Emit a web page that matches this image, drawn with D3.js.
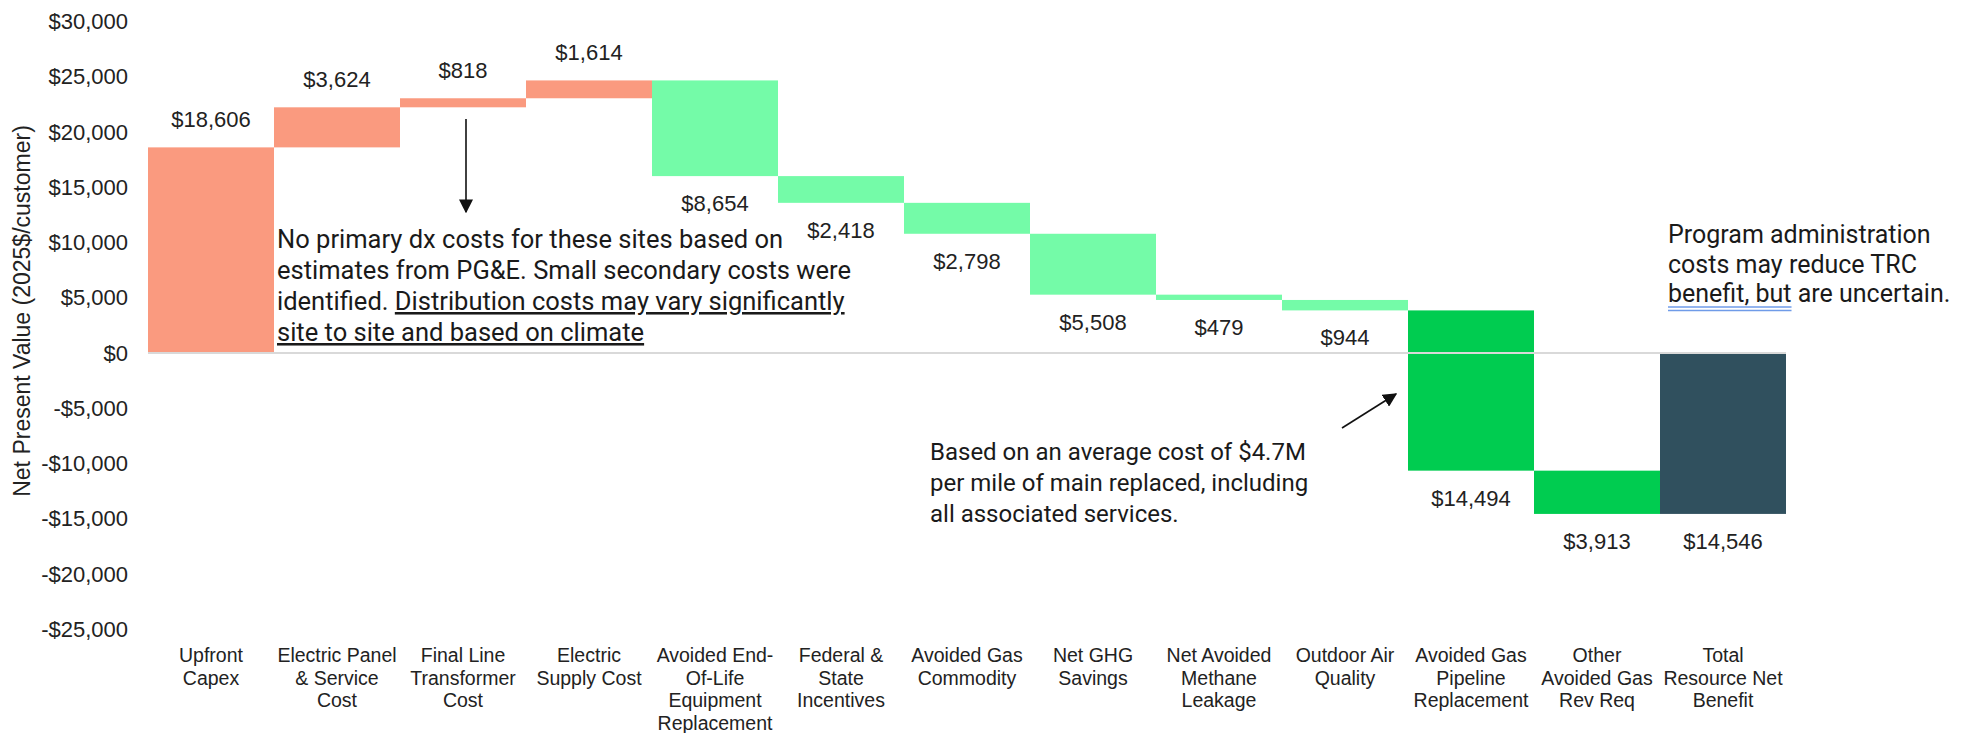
<!DOCTYPE html>
<html>
<head>
<meta charset="utf-8">
<script src="https://cdn.jsdelivr.net/npm/d3@7"></script>
<style>
	body { margin: 0; background: #ffffff; }
	svg text { fill: #1a1a1a; }
</style>
</head>
<body>
<svg id="chart" width="1978" height="733"></svg>
<script>
	// data
	var categories = ["Upfront\nCapex", "Electric Panel\n& Service\nCost", "Final Line\nTransformer\nCost",
		"Electric\nSupply Cost", "Avoided End-\nOf-Life\nEquipment\nReplacement", "Federal &\nState\nIncentives",
		"Avoided Gas\nCommodity", "Net GHG\nSavings", "Net Avoided\nMethane\nLeakage", "Outdoor Air\nQuality",
		"Avoided Gas\nPipeline\nReplacement", "Other\nAvoided Gas\nRev Req", "Total\nResource Net\nBenefit"];
	var steps = [18606, 3624, 818, 1614, -8654, -2418, -2798, -5508, -479, -944, -14494, -3913];
	var kinds = ["cost", "cost", "cost", "cost", "benefit", "benefit", "benefit", "benefit", "benefit", "benefit", "gas", "gas", "total"];
	var yTicks = [-25000, -20000, -15000, -10000, -5000, 0, 5000, 10000, 15000, 20000, 25000, 30000];

	var colors = { cost: "#FA9A7F", benefit: "#74FBA8", gas: "#00CC50", total: "#30505E" };

	// build waterfall rows
	var rows = [], running = 0;
	steps.forEach(function(v, i) {
		rows.push({ cat: categories[i], kind: kinds[i], value: v, start: running, end: running + v });
		running += v;
	});
	rows.push({ cat: categories[12], kind: kinds[12], value: running, start: 0, end: running });

	var svg = d3.select("#chart");

	var x = d3.scaleBand()
		.domain(categories)
		.range([148, 1786])
		.padding(0);

	var y = d3.scaleLinear()
		.domain([-25000, 30000])
		.range([629.5, 21.4]);

	var money = function(v) {
		return (v < 0 ? "-$" : "$") + d3.format(",")(Math.abs(v));
	};

	var labelFont = "'Liberation Sans', Arial, sans-serif";

	// y axis
	var yAxis = svg.append("g")
		.attr("transform", "translate(148,0)")
		.call(d3.axisLeft(y).tickValues(yTicks).tickSize(0).tickPadding(20).tickFormat(money));
	yAxis.select(".domain").remove();
	yAxis.selectAll("text")
		.attr("font-family", labelFont)
		.attr("font-size", "22px")
		.style("fill", "#222");

	svg.append("text")
		.attr("transform", "translate(30,311) rotate(-90)")
		.attr("text-anchor", "middle")
		.attr("font-family", labelFont)
		.attr("font-size", "23px")
		.style("fill", "#222")
		.text("Net Present Value (2025$/customer)");

	// bars
	svg.selectAll(".bar")
		.data(rows)
		.enter().append("rect")
			.attr("class", "bar")
			.attr("x", function(d) { return x(d.cat); })
			.attr("width", x.bandwidth())
			.attr("y", function(d) { return y(Math.max(d.start, d.end)); })
			.attr("height", function(d) { return Math.abs(y(d.start) - y(d.end)); })
			.attr("fill", function(d) { return colors[d.kind]; });

	// zero line
	svg.append("line")
		.attr("x1", x.range()[0])
		.attr("x2", x.range()[1])
		.attr("y1", y(0))
		.attr("y2", y(0))
		.attr("stroke", "#D9D9D9")
		.attr("stroke-width", 2);

	// data labels
	svg.selectAll(".vlabel")
		.data(rows)
		.enter().append("text")
			.attr("class", "vlabel")
			.attr("x", function(d) { return x(d.cat) + x.bandwidth() / 2; })
			.attr("y", function(d) {
				return d.value > 0 ? y(Math.max(d.start, d.end)) - 20 : y(Math.min(d.start, d.end)) + 35;
			})
			.attr("text-anchor", "middle")
			.attr("font-family", labelFont)
			.attr("font-size", "22px")
			.style("fill", "#222")
			.text(function(d) { return money(Math.abs(d.value)); });

	// category labels
	var catLabels = svg.selectAll(".cat")
		.data(categories)
		.enter().append("text")
			.attr("class", "cat")
			.attr("text-anchor", "middle")
			.attr("font-family", labelFont)
			.attr("font-size", "19.5px")
			.style("fill", "#222");
	catLabels.each(function(c) {
		var t = d3.select(this);
		c.split("\n").forEach(function(line, i) {
			t.append("tspan")
				.attr("x", x(c) + x.bandwidth() / 2)
				.attr("y", 662 + i * 22.5)
				.text(line);
		});
	});

	// arrows
	var defs = svg.append("defs");
	defs.append("marker")
		.attr("id", "arrowhead")
		.attr("viewBox", "0 0 10 10")
		.attr("refX", 9)
		.attr("refY", 5)
		.attr("markerWidth", 14)
		.attr("markerHeight", 14)
		.attr("markerUnits", "userSpaceOnUse")
		.attr("orient", "auto")
		.append("path")
			.attr("d", "M0,0 L10,5 L0,10 Z")
			.attr("fill", "#111");

	svg.append("line")
		.attr("x1", 466).attr("y1", 119)
		.attr("x2", 466).attr("y2", 212)
		.attr("stroke", "#111")
		.attr("stroke-width", 1.6)
		.attr("marker-end", "url(#arrowhead)");

	svg.append("line")
		.attr("x1", 1342).attr("y1", 428)
		.attr("x2", 1396).attr("y2", 394)
		.attr("stroke", "#111")
		.attr("stroke-width", 1.6)
		.attr("marker-end", "url(#arrowhead)");

	// annotations
	var noteFont = "Roboto, 'Noto Sans', sans-serif";

	var note1 = svg.append("text")
		.attr("font-family", noteFont)
		.attr("font-size", "25.5px")
		.style("fill", "#1a1a1a");
	note1.append("tspan").attr("x", 277).attr("y", 248).text("No primary dx costs for these sites based on");
	note1.append("tspan").attr("x", 277).attr("y", 279).text("estimates from PG&E. Small secondary costs were");
	var l3 = note1.append("tspan").attr("x", 277).attr("y", 310);
	l3.append("tspan").text("identified. ");
	l3.append("tspan").style("text-decoration", "underline").text("Distribution costs may vary significantly");
	note1.append("tspan").attr("x", 277).attr("y", 341).style("text-decoration", "underline")
		.text("site to site and based on climate");

	var note2 = svg.append("text")
		.attr("font-family", noteFont)
		.attr("font-size", "24px")
		.style("fill", "#1a1a1a");
	note2.append("tspan").attr("x", 930).attr("y", 460).text("Based on an average cost of $4.7M");
	note2.append("tspan").attr("x", 930).attr("y", 491).text("per mile of main replaced, including");
	note2.append("tspan").attr("x", 930).attr("y", 522).text("all associated services.");

	var note3 = svg.append("text")
		.attr("font-family", noteFont)
		.attr("font-size", "25px")
		.style("fill", "#1a1a1a");
	note3.append("tspan").attr("x", 1668).attr("y", 243).text("Program administration");
	note3.append("tspan").attr("x", 1668).attr("y", 273).text("costs may reduce TRC");
	var u = note3.append("tspan").attr("x", 1668).attr("y", 302).text("benefit, but");
	note3.append("tspan").text(" are uncertain.");

	// spell-check style double underline
	var uw = u.node().getComputedTextLength();
	[307, 310.5].forEach(function(yy) {
		svg.append("line")
			.attr("x1", 1668).attr("x2", 1668 + uw)
			.attr("y1", yy).attr("y2", yy)
			.attr("stroke", "#6F9BE8")
			.attr("stroke-width", 1.5);
	});
</script>
</body>
</html>
